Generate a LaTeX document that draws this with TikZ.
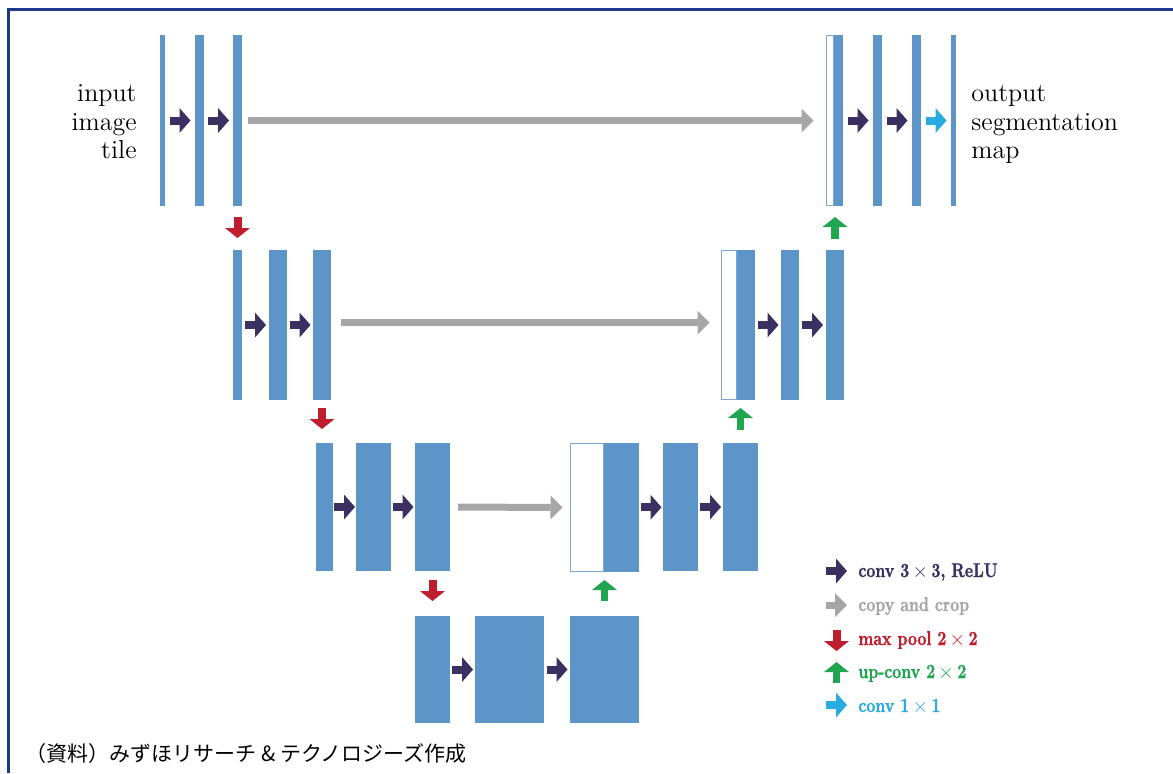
\documentclass[tikz,border=0pt]{standalone}
\usepackage{fontspec}
\usetikzlibrary{arrows.meta,calc}
\newfontfamily\cjkfont{Noto Sans CJK JP}
\newfontfamily\legendfont{lmroman10-bold.otf}[FakeStretch=0.78, FakeBold=1.2]
\definecolor{barblue}{RGB}{94,149,200}
\definecolor{hollowedge}{RGB}{125,168,215}
\definecolor{convnavy}{RGB}{58,48,98}
\definecolor{copygrey}{RGB}{166,166,166}
\definecolor{poolred}{RGB}{190,30,45}
\definecolor{upgreen}{RGB}{34,165,80}
\definecolor{cyanarrow}{RGB}{41,171,226}
\definecolor{framenavy}{RGB}{28,58,140}
\tikzset{
  barnode/.style={rectangle, fill=barblue, draw=none, inner sep=0pt, outer sep=0pt},
  hollownode/.style={rectangle, fill=white, draw=hollowedge, line width=0.8pt, inner sep=0pt, outer sep=0pt},
  convarrow/.style={draw=convnavy, line width=4pt, -{Triangle[length=5.5pt, width=12.5pt, line width=0pt, fill=convnavy]}},
  cyanconv/.style={draw=cyanarrow, line width=4pt, -{Triangle[length=5.5pt, width=12.5pt, line width=0pt, fill=cyanarrow]}},
  copyarrow/.style={draw=copygrey, line width=3.5pt, -{Triangle[length=6pt, width=12pt, line width=0pt, fill=copygrey]}},
  poolarrow/.style={draw=poolred, line width=4pt, -{Triangle[length=5pt, width=12.5pt, line width=0pt, fill=poolred]}},
  uparrow/.style={draw=upgreen, line width=3.7pt, -{Triangle[length=5pt, width=12.5pt, line width=0pt, fill=upgreen]}},
  sidelabel/.style={font=\fontsize{13}{15}\selectfont, inner sep=0pt},
  legendtext/.style={font=\legendfont\fontsize{10}{12}\selectfont, inner sep=0pt, anchor=base west},
}
% name, x1, x2, y1, y2  (pixel units)
\newcommand{\Ublock}[6][barnode]{\node[#1, minimum width={(#4-#3)*0.5pt}, minimum height={(#6-#5)*0.5pt}] (#2) at ({(#3+#4)/2},{(#5+#6)/2}) {};}
\newcommand{\Uconv}[3][convarrow]{\draw[#1] ($(#2.east)!0.5!(#3.west)+(-10.5,0)$) -- ($(#2.east)!0.5!(#3.west)+(10.5,0)$);}
\begin{document}
\begin{tikzpicture}[x=0.5pt,y=-0.5pt]
\useasboundingbox (0,0) rectangle (1173,773);
% frame (top and left edges)
\draw[framenavy, line width=1.5pt] (8.5,773) -- (8.5,9) -- (1173,9);

% ---- level 1 ----
\Ublock{l1a}{160}{165}{35}{206}
\Ublock{l1b}{195}{204}{35}{206}
\Ublock{l1c}{233}{242}{35}{206}
\Ublock[hollownode]{r1h}{826.5}{834}{35.5}{205.5}
\Ublock{r1a}{834}{843}{35}{206}
\Ublock{r1b}{873}{882}{35}{206}
\Ublock{r1c}{912}{921}{35}{206}
\Ublock{r1d}{951}{956}{35}{206}
% ---- level 2 ----
\Ublock{l2a}{233}{242}{250}{400}
\Ublock{l2b}{269}{287}{250}{400}
\Ublock{l2c}{313}{331}{250}{400}
\Ublock[hollownode]{r2h}{721.5}{737}{250.5}{399.5}
\Ublock{r2a}{737}{755}{250}{400}
\Ublock{r2b}{781}{799}{250}{400}
\Ublock{r2c}{826}{844}{250}{400}
% ---- level 3 ----
\Ublock{l3a}{316}{333}{443}{571}
\Ublock{l3b}{356}{391}{443}{571}
\Ublock{l3c}{415}{450}{443}{571}
\Ublock[hollownode]{r3h}{570.5}{604}{443.5}{571.5}
\Ublock{r3a}{604}{639}{443}{572}
\Ublock{r3b}{663}{698}{443}{571}
\Ublock{r3c}{723}{758}{443}{571}
% ---- level 4 ----
\Ublock{b4a}{415}{450}{616}{723}
\Ublock{b4b}{475}{544}{616}{723}
\Ublock{b4c}{570}{639}{616}{723}

% conv 3x3 arrows
\Uconv{l1a}{l1b}
\Uconv{l1b}{l1c}
\Uconv{r1a}{r1b}
\Uconv{r1b}{r1c}
\Uconv[cyanconv]{r1c}{r1d}
\Uconv{l2a}{l2b}
\Uconv{l2b}{l2c}
\Uconv{r2a}{r2b}
\Uconv{r2b}{r2c}
\Uconv{l3a}{l3b}
\Uconv{l3b}{l3c}
\Uconv{r3a}{r3b}
\Uconv{r3b}{r3c}
\Uconv{b4a}{b4b}
\Uconv{b4b}{b4c}

% copy and crop
\draw[copyarrow, shorten <=3pt, shorten >=6.5pt] (l1c) -- (r1h);
\draw[copyarrow, shorten <=5pt, shorten >=6pt] ($(l2c.east)+(0,-2.5)$) -- ($(r2h.west)+(0,-2.5)$);
\draw[copyarrow, shorten <=4pt, shorten >=4pt] (l3c) -- (r3h);

% max pool
\draw[poolarrow] ($(l1c.south)+(0,11)$) -- ++(0,21);
\draw[poolarrow] ($(l2c.south)+(0,8)$) -- ++(0,21);
\draw[poolarrow] ($(l3c.south)+(0,8.5)$) -- ++(0,21.5);

% up-conv
\draw[uparrow] ($(b4c.north)+(0,-15)$) -- ++(0,-21);
\draw[uparrow] ($(r3c.north)+(0,-13)$) -- ++(0,-22);
\draw[uparrow] ($(r2c.north)+(0,-11)$) -- ++(0,-22);

% side labels
\node[sidelabel, anchor=base east] (in1) at (137,101) {input};
\node[sidelabel, anchor=base east] (in2) at (137,130) {image};
\node[sidelabel, anchor=base east] (in3) at (137,158) {tile};
\node[sidelabel, anchor=base west] (out1) at (971,101.5) {output};
\node[sidelabel, anchor=base west] (out2) at (971,130) {segmentation};
\node[sidelabel, anchor=base west] (out3) at (971,158) {map};

% legend
\coordinate (lgc) at (826,571);
\coordinate (lgg) at (826,605);
\coordinate (lgr) at (836.5,630);
\coordinate (lgu) at (836.5,683);
\coordinate (lgb) at (826,705);
\draw[convarrow] (lgc) -- ++(21,0);
\draw[copyarrow] (lgg) -- ++(21,0);
\draw[poolarrow] (lgr) -- ++(0,21);
\draw[uparrow] (lgu) -- ++(0,-21);
\draw[cyanconv] (lgb) -- ++(21,0);
\node[legendtext, text=convnavy] (t1) at (858,577) {conv 3\,$\times$\,3, ReLU};
\node[legendtext, text=copygrey] (t2) at (858,611) {copy and crop};
\node[legendtext, text=poolred] (t3) at (858,645) {max pool 2\,$\times$\,2};
\node[legendtext, text=upgreen] (t4) at (858,678) {up-conv 2\,$\times$\,2};
\node[legendtext, text=cyanarrow] (t5) at (858,712) {conv 1\,$\times$\,1};

% source note
\node[anchor=base west, inner sep=0pt, font=\cjkfont\fontsize{10.5}{12}\selectfont] (src) at (25,761) {（資料）みずほリサーチ \& テクノロジーズ作成};
\end{tikzpicture}
\end{document}
